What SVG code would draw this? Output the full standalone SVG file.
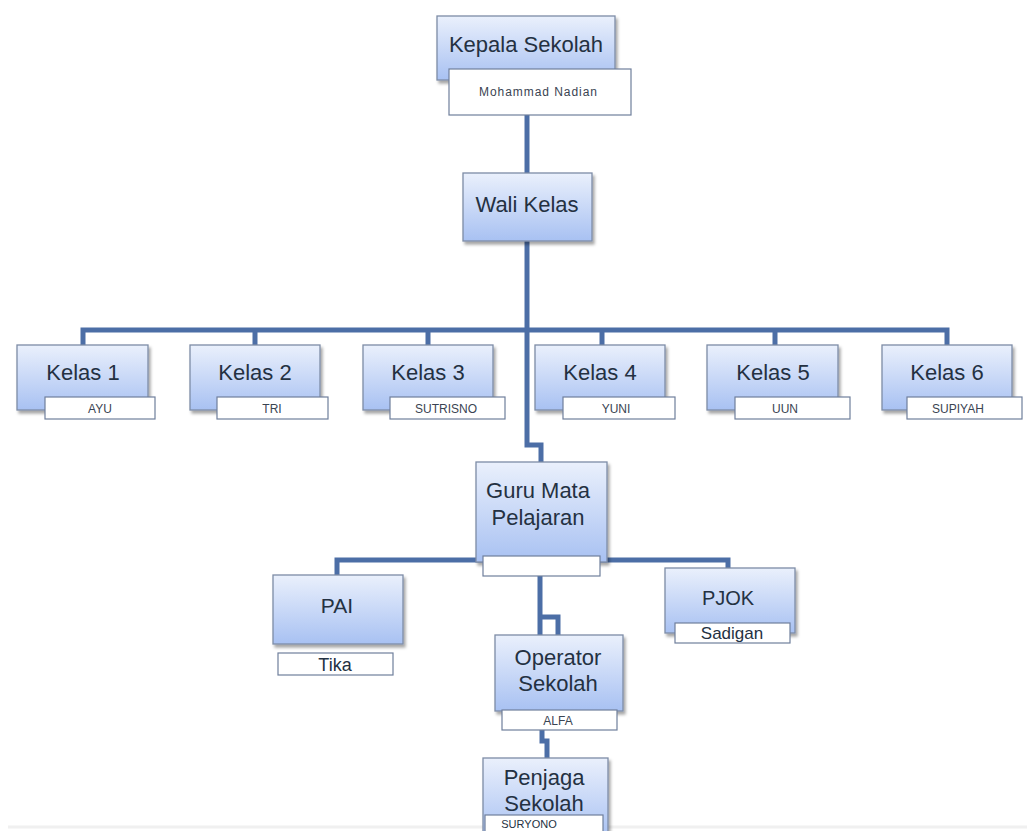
<svg xmlns="http://www.w3.org/2000/svg" width="1027" height="831" viewBox="0 0 1027 831">
<defs>
<linearGradient id="g" x1="0" y1="0" x2="0" y2="1">
<stop offset="0" stop-color="#eaf0fc"/>
<stop offset="1" stop-color="#a8c1f2"/>
</linearGradient>
<filter id="sh" x="-10%" y="-10%" width="125%" height="130%">
<feDropShadow dx="2" dy="3" stdDeviation="1.5" flood-color="#000" flood-opacity="0.35"/>
</filter>
<style>
.box{fill:url(#g);stroke:#7d8ca6;stroke-width:1.3;filter:url(#sh)}
.lab{fill:#fff;stroke:#6f7f9c;stroke-width:1.2}
.t{font-family:"Liberation Sans",Arial,sans-serif;fill:#243142;text-anchor:middle}
.big{font-size:22px}
.sm{font-size:12px;fill:#3a4452}
.con{fill:none;stroke:#4c6ea6;stroke-width:5;stroke-linejoin:miter}
</style>
</defs>
<rect width="1027" height="831" fill="#fff"/>
<line x1="8" y1="827" x2="1027" y2="827" stroke="#f0f0f0" stroke-width="3"/>

<g id="connectors">
<path class="con" d="M527 113V175"/>
<path class="con" d="M527 240V330"/>
<path class="con" d="M83 347V330H947V347"/>
<path class="con" d="M255 330V347M428 330V347M602 330V347M775 330V347"/>
<path class="con" d="M527 330V445H541V464"/>
<path class="con" d="M485 560H337V577"/>
<path class="con" d="M598 560H728V570"/>
<path class="con" d="M540 576V637M540 617H558V637"/>
<path class="con" d="M542 729V741H547V760"/>
</g>

<g id="kepala">
<rect class="box" x="437" y="16" width="178" height="64"/>
<text class="t big" x="526" y="52">Kepala Sekolah</text>
<rect class="lab" x="449" y="69" width="182" height="46"/>
<text class="t sm" x="538" y="96" textLength="118">Mohammad Nadian</text>
</g>

<g id="wali">
<rect class="box" x="463" y="173" width="129" height="68"/>
<text class="t big" x="527" y="212">Wali Kelas</text>
</g>

<g id="kelas1">
<rect class="box" x="17" y="345" width="131" height="65"/>
<text class="t big" x="83" y="380">Kelas 1</text>
<rect class="lab" x="45" y="397" width="110" height="22"/>
<text class="t sm" x="100" y="413">AYU</text>
</g>
<g id="kelas2">
<rect class="box" x="190" y="345" width="130" height="65"/>
<text class="t big" x="255" y="380">Kelas 2</text>
<rect class="lab" x="217" y="397" width="111" height="22"/>
<text class="t sm" x="272" y="413">TRI</text>
</g>
<g id="kelas3">
<rect class="box" x="363" y="345" width="130" height="65"/>
<text class="t big" x="428" y="380">Kelas 3</text>
<rect class="lab" x="390" y="397" width="115" height="22"/>
<text class="t sm" x="446" y="413">SUTRISNO</text>
</g>
<g id="kelas4">
<rect class="box" x="535" y="345" width="130" height="65"/>
<text class="t big" x="600" y="380">Kelas 4</text>
<rect class="lab" x="563" y="397" width="112" height="22"/>
<text class="t sm" x="616" y="413">YUNI</text>
</g>
<g id="kelas5">
<rect class="box" x="707" y="345" width="131" height="65"/>
<text class="t big" x="773" y="380">Kelas 5</text>
<rect class="lab" x="735" y="397" width="115" height="22"/>
<text class="t sm" x="785" y="413">UUN</text>
</g>
<g id="kelas6">
<rect class="box" x="882" y="345" width="130" height="65"/>
<text class="t big" x="947" y="380">Kelas 6</text>
<rect class="lab" x="907" y="397" width="115" height="22"/>
<text class="t sm" x="958" y="413">SUPIYAH</text>
</g>

<g id="guru">
<rect class="box" x="476" y="462" width="131" height="100"/>
<text class="t big" x="538" y="498">Guru Mata</text>
<text class="t big" x="538" y="525">Pelajaran</text>
<rect class="lab" x="483" y="556" width="117" height="20"/>
</g>

<g id="pai">
<rect class="box" x="273" y="575" width="130" height="69"/>
<text class="t" x="337" y="613" font-size="21">PAI</text>
<rect class="lab" x="278" y="653" width="115" height="22"/>
<text class="t" x="335" y="671" font-size="18">Tika</text>
</g>

<g id="pjok">
<rect class="box" x="665" y="568" width="130" height="65"/>
<text class="t" x="728" y="605" font-size="20">PJOK</text>
<rect class="lab" x="675" y="623" width="115" height="20"/>
<text class="t" x="732" y="639" font-size="17">Sadigan</text>
</g>

<g id="operator">
<rect class="box" x="495" y="635" width="128" height="76"/>
<text class="t big" x="558" y="665">Operator</text>
<text class="t big" x="558" y="691">Sekolah</text>
<rect class="lab" x="502" y="710" width="115" height="20"/>
<text class="t sm" x="558" y="725">ALFA</text>
</g>

<g id="penjaga">
<rect class="box" x="483" y="758" width="125" height="80"/>
<text class="t big" x="544" y="785">Penjaga</text>
<text class="t big" x="544" y="811">Sekolah</text>
<rect class="lab" x="485" y="815" width="118" height="20"/>
<text class="t" x="529" y="828" font-size="11">SURYONO</text>
</g>
</svg>
